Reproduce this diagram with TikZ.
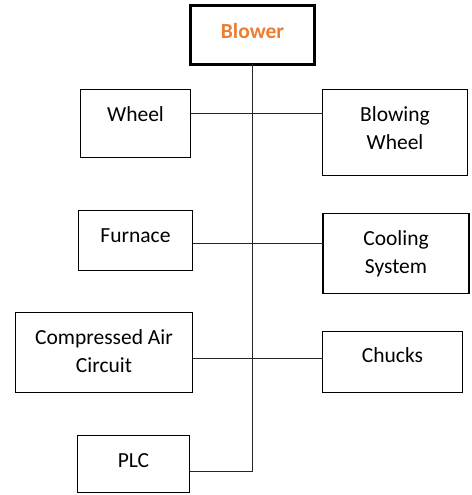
\documentclass[tikz,border=0pt]{standalone}
\usepackage{fontspec}
\setmainfont{Carlito}
\definecolor{blowerorange}{HTML}{ED7D31}
\tikzset{
  boxnode/.style={draw=black, line width=1.9pt, rectangle, inner sep=0pt, outer sep=0pt, fill=white},
  txt/.style={anchor=base, inner sep=0pt, align=center, font=\fontsize{21.5}{28}\selectfont},
  wire/.style={draw=black!85, line width=0.9pt}
}
\begin{document}
\begin{tikzpicture}[x=1pt,y=-1pt]
\useasboundingbox (0,0) rectangle (471,495);
% boxes
\node[boxnode, line width=2.3pt, minimum width=124pt, minimum height=59pt] (blower) at (252.5,35) {};
\node[boxnode, minimum width=110pt, minimum height=68pt] (wheel) at (135.5,123.5) {};
\node[boxnode, minimum width=145pt, minimum height=86pt] (blowing) at (395,132.5) {};
\node[boxnode, minimum width=114pt, minimum height=60pt] (furnace) at (135.5,240.5) {};
\node[boxnode, minimum width=146pt, minimum height=80pt] (cooling) at (396,253.5) {};
\node[boxnode, minimum width=177pt, minimum height=80pt] (compressed) at (104,352.5) {};
\node[boxnode, minimum width=140pt, minimum height=61pt] (chucks) at (392.5,362) {};
\node[boxnode, minimum width=112pt, minimum height=57pt] (plc) at (133.5,464) {};
% texts (base = baseline of last line)
\node[txt, text=blowerorange, font=\fontsize{21.5}{28}\selectfont\bfseries] (blowerT) at (252.5,38) {Blower};
\node[txt] (wheelT) at (135.5,121.5) {Wheel};
\node[txt] (blowingT) at (395,149) {Blowing\\Wheel};
\node[txt] (furnaceT) at (135.5,242) {Furnace};
\node[txt] (coolingT) at (396,273.5) {Cooling\\System};
\node[txt] (compressedT) at (104,372) {Compressed Air\\Circuit};
\node[txt] (chucksT) at (392.5,362) {Chucks};
\node[txt] (plcT) at (133.5,467) {PLC};
% connector anchors
\coordinate (w1) at ([yshift=10.5pt]wheel.east);
\coordinate (f1) at ([yshift=-2.5pt]furnace.east);
\coordinate (c1) at ([yshift=-5.5pt]compressed.east);
\coordinate (p1) at ([yshift=-7pt]plc.east);
% connectors
\draw[wire] (blower.south) |- (p1);
\draw[wire] (w1) -- (w1 -| blowing.west);
\draw[wire] (f1) -- (f1 -| cooling.west);
\draw[wire] (c1) -- (c1 -| chucks.west);
\end{tikzpicture}
\end{document}
